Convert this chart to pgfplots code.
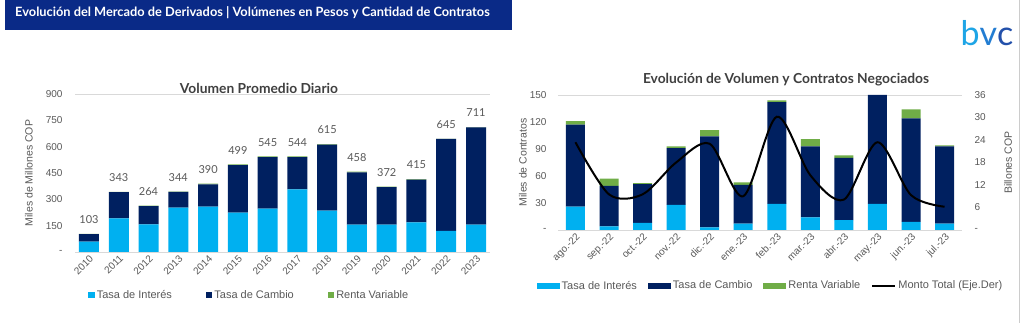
\documentclass[border=0pt]{standalone}
\usepackage{pgfplots}
\pgfplotsset{compat=1.18}
\usepackage{pgfplotstable}
\usepackage{fontspec}
\setmainfont{Lato}
\newfontfamily\arialfont{Liberation Sans}
\newcommand\tickfont{\arialfont\fontsize{10}{12}\selectfont}
\newcommand\labfont{\arialfont\fontsize{10.5}{12}\selectfont}
\definecolor{cLight}{RGB}{0,176,240}
\definecolor{cNavy}{RGB}{0,32,96}
\definecolor{cGreen}{RGB}{112,173,71}
\definecolor{cBanner}{RGB}{10,42,135}
\definecolor{cText}{RGB}{89,89,89}
\definecolor{cTitle}{RGB}{64,64,64}
\definecolor{cAxis}{RGB}{217,217,217}
\definecolor{cLogoA}{RGB}{30,165,230}
\definecolor{cLogoB}{RGB}{35,125,210}
\definecolor{cLogoC}{RGB}{35,80,170}

\pgfplotstableread{
idx ti tc rv total
0 59 43 1 103
1 192 149 2 343
2 158 104 2 264
3 253 89 2 344
4 258 127 5 390
5 224 271 4 499
6 247 294 4 545
7 357 184 3 544
8 235 377 3 615
9 156 297 5 458
10 156 213 3 372
11 169 243 3 415
12 120 524 1 645
13 156 554 1 711
}\leftdata

\pgfplotstableread{
idx ti tc rv
0 26 91 4
1 4 45 8
2 8 43 1
3 28 63 2
4 3 101 7
5 7 43 3
6 29 113 2
7 14 79 8
8 11 69 3
9 29 121 0
10 9 115 10
11 7 86 1
}\rightdata

\pgfplotstableread{
idx monto
0 23.4
1 9.5
2 9.5
3 18.0
4 23.0
5 9.0
6 30.2
7 14.6
8 8.1
9 23.4
10 9.3
11 6.2
}\linedata

\pgfplotsset{
  mystyle/.style={
    scale only axis,
    separate axis lines,
    x axis line style={draw=cAxis, line width=0.8pt},
    y axis line style={draw=none},
    major tick length=0pt,
    xticklabel style={font=\tickfont, text=cText, rotate=45, anchor=north east, inner sep=1.5pt},
    legend style={draw=none, fill=none, font=\arialfont\fontsize{11}{13}\selectfont, text=cText, inner sep=0pt},
    legend cell align=left,
  }
}

\begin{document}
\begin{tikzpicture}
\fill[white] (0pt,0pt) rectangle (1024pt,323pt);
\path[use as bounding box] (0pt,0pt) rectangle (1024pt,323pt);
% banner
\fill[cBanner] (5pt,293pt) rectangle (512pt,323pt);
\node[anchor=west, text=white, font=\bfseries\fontsize{12.8}{14}\selectfont, inner sep=0pt] at (15pt,310.5pt) {Evoluci\'on del Mercado de Derivados | Vol\'umenes en Pesos y Cantidad de Contratos};
\draw[gray!40, line width=0.6pt] (1019pt,323pt) -- (1019pt,0pt);
% logo
\node[font=\fontsize{34}{34}\selectfont, inner sep=0pt] at (987pt,290pt) {\textcolor{cLogoA}{b}\textcolor{cLogoB}{v}\textcolor{cLogoC}{c}};
% titles
\node[text=cTitle, font=\bfseries\fontsize{13.8}{15}\selectfont] at (259pt,235pt) {Volumen Promedio Diario};
\node[text=cTitle, font=\bfseries\fontsize{13.8}{15}\selectfont] at (786pt,243pt) {Evoluci\'on de Volumen y Contratos Negociados};

% left chart
\begin{axis}[mystyle,
  at={(75pt,71pt)}, anchor=south west,
  width=415pt, height=158pt,
  ybar stacked, bar width=20pt,
  xmin=-0.47, xmax=13.47, ymin=0, ymax=900,
  xtick={0,...,13},
  xticklabels={2010,2011,2012,2013,2014,2015,2016,2017,2018,2019,2020,2021,2022,2023},
  ytick={0,150,300,450,600,750,900},
  yticklabels={-\hspace{9pt},150,300,450,600,750,900},
  yticklabel style={font=\tickfont, text=cText, anchor=east, xshift=-9pt},
  ylabel={Miles de Millones COP},
  every axis y label/.style={at={(axis description cs:-0.111,0.5)}, anchor=center, rotate=90, font=\labfont, text=cText},
  legend columns=3,
  legend style={at={(axis description cs:0.42,-0.272)}, anchor=center,
    /tikz/every even column/.append style={column sep=32pt}},
  legend image code/.code={\fill[#1] (0pt,-3.2pt) rectangle (6.4pt,3.2pt);},
]
\addplot[fill=cLight, draw=none] table[x=idx, y=ti] {\leftdata};
\addlegendentry{Tasa de Inter\'es}
\addplot[fill=cNavy, draw=none] table[x=idx, y=tc] {\leftdata};
\addlegendentry{Tasa de Cambio}
\addplot[fill=cGreen, draw=none,
  nodes near coords, point meta=explicit symbolic,
  nodes near coords style={font=\fontsize{11}{12}\selectfont, text=cText, anchor=south, yshift=7pt}]
  table[x=idx, y=rv, meta=total] {\leftdata};
\addlegendentry{Renta Variable}
\end{axis}

% right chart, bars
\begin{axis}[mystyle,
  at={(558pt,93pt)}, anchor=south west,
  width=404pt, height=135pt,
  ybar stacked, bar width=19pt,
  xmin=-0.52, xmax=11.52, ymin=0, ymax=150,
  xtick={0,...,11},
  xticklabels={ago.-22,sep.-22,oct.-22,nov.-22,dic.-22,ene.-23,feb.-23,mar.-23,abr.-23,may.-23,jun.-23,jul.-23},
  ytick={0,30,60,90,120,150},
  yticklabels={-,30,60,90,120,150},
  yticklabel style={font=\tickfont, text=cText, anchor=east, xshift=-8pt},
  ylabel={Miles de Contratos},
  every axis y label/.style={at={(axis description cs:-0.087,0.5)}, anchor=center, rotate=90, font=\labfont, text=cText},
  legend columns=4,
  legend style={at={(axis description cs:0.526,-0.413)}, anchor=center,
    /tikz/every even column/.append style={column sep=9pt}},
  legend image code/.code={\fill[#1] (0pt,-3pt) rectangle (23pt,3pt);},
]
\addplot[fill=cLight, draw=none] table[x=idx, y=ti] {\rightdata};
\addlegendentry{Tasa de Inter\'es}
\addplot[fill=cNavy, draw=none] table[x=idx, y=tc] {\rightdata};
\addlegendentry{Tasa de Cambio}
\addplot[fill=cGreen, draw=none] table[x=idx, y=rv] {\rightdata};
\addlegendentry{Renta Variable}
\addlegendimage{legend image code/.code={\draw[black, line width=2pt] (0pt,0pt) -- (23pt,0pt);}}
\addlegendentry{Monto Total (Eje.Der)}
\end{axis}

% right chart, secondary axis
\begin{axis}[mystyle,
  at={(558pt,93pt)}, anchor=south west,
  width=404pt, height=135pt,
  xmin=-0.52, xmax=11.52, ymin=0, ymax=36,
  axis x line=none,
  axis y line*=right,
  ytick={0,6,12,18,24,30,36},
  yticklabels={-,6,12,18,24,30,36},
  yticklabel style={font=\tickfont, text=cText, anchor=west, xshift=9pt},
  ylabel={Billones COP},
  every axis y label/.style={at={(axis description cs:1.114,0.5)}, anchor=center, rotate=90, font=\labfont, text=cText},
]
\addplot[black, line width=2pt, smooth, tension=0.5, mark=none] table[x=idx, y=monto] {\linedata};
\end{axis}
\end{tikzpicture}
\end{document}
